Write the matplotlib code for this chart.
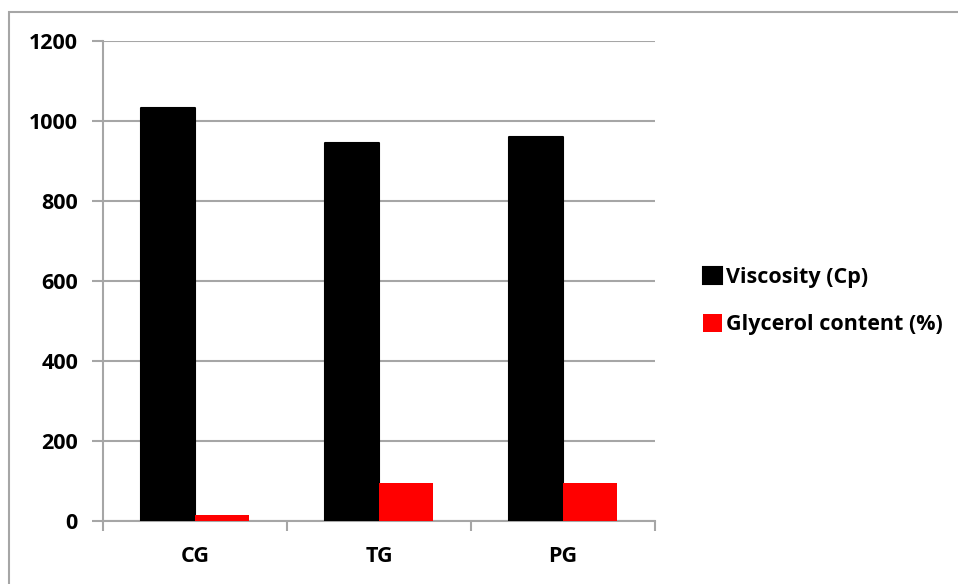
import matplotlib.pyplot as plt
from matplotlib.patches import Rectangle
import numpy as np

categories = ['CG', 'TG', 'PG']
viscosity = [1032, 946, 961]
glycerol = [16, 96, 96]
y_ticks = [0, 200, 400, 600, 800, 1000, 1200]

plt.rcParams['font.family'] = ['Open Sans', 'DejaVu Sans']
plt.rcParams['font.weight'] = 'bold'

grey = '#a6a6a6'
fs = 15.5
fig = plt.figure(figsize=(9.58, 5.84), dpi=100)

# chart area border
fig.patches.append(Rectangle((9 / 958, -0.1), 2, 1 - 12 / 584 + 0.1, transform=fig.transFigure,
                             fill=False, edgecolor=grey, linewidth=1.5))

ax = fig.add_axes([103 / 958, 1 - 521 / 584, 552 / 958, 480 / 584])
x = np.arange(len(categories))
w = 0.293
ax.bar(x - w / 2, viscosity, w, color='black', edgecolor='black', linewidth=1.5,
       joinstyle='round', label='Viscosity (Cp)', zorder=3)
ax.bar(x + w / 2, glycerol, w, color='#ff0000', linewidth=0,
       label='Glycerol content (%)', zorder=3)

ax.set_xlim(-0.5, 2.5)
ax.set_ylim(0, 1200)
ax.set_yticks(y_ticks)
ax.yaxis.grid(True, color=grey, linewidth=1.5, zorder=0)
ax.set_xticks(x)
ax.set_xticklabels(categories)
ax.set_xticks([-0.5, 0.5, 1.5, 2.5], minor=True)
ax.tick_params(axis='x', which='major', length=0, pad=18, labelsize=fs)
ax.tick_params(axis='x', which='minor', length=7, width=1.5, color=grey, direction='out')
ax.tick_params(axis='y', length=8, width=1.5, color=grey, pad=10, labelsize=fs)
for s in ['top', 'right']:
    ax.spines[s].set_visible(False)
for s in ['left', 'bottom']:
    ax.spines[s].set_color(grey)
    ax.spines[s].set_linewidth(1.5)

ax.legend(loc='center left', bbox_to_anchor=(684 / 958, 1 - 301 / 584),
          bbox_transform=fig.transFigure, frameon=False, fontsize=fs,
          handlelength=0.85, handleheight=0.85, handletextpad=0.2, labelspacing=1.25)

fig.savefig('out.png', dpi=100)
